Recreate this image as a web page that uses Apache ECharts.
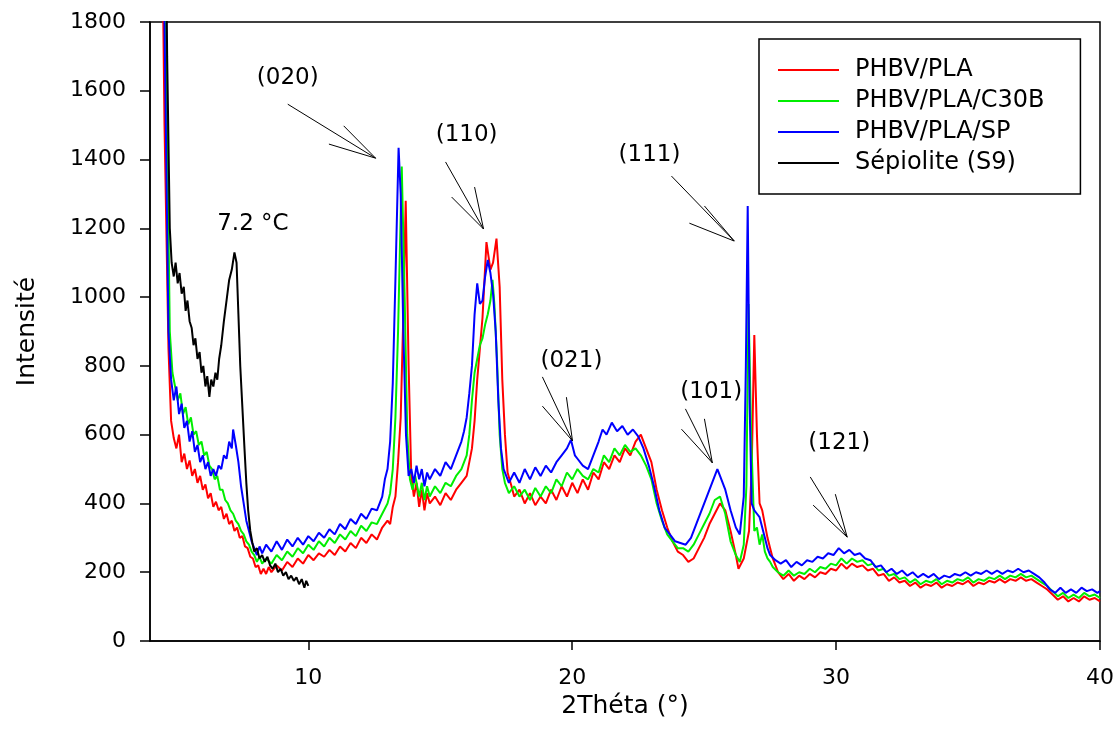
<!DOCTYPE html>
<html>
<head>
<meta charset="utf-8">
<script src="https://cdn.jsdelivr.net/npm/echarts@6/dist/echarts.min.js"></script>
<style>
html,body{margin:0;padding:0;background:#fff;}
#c{width:1117px;height:745px;}
</style>
</head>
<body>
<div id="c"></div>
<script>
// ---------- data (2Theta, intensity) ----------
const seriesNames = ['PHBV/PLA', 'PHBV/PLA/C30B', 'PHBV/PLA/SP', 'Sépiolite (S9)'];
const xTickValues = [10, 20, 30, 40];

const phbvPla = [
[4.4,2500],[4.55,1500],[4.7,850],[4.8,640],[4.9,590],[5.0,560],[5.1,600],[5.2,520],[5.3,545],[5.4,500],
[5.5,525],[5.6,480],[5.7,500],[5.8,460],[5.9,480],[6.0,440],[6.1,455],[6.2,415],[6.3,430],[6.4,390],
[6.5,405],[6.6,380],[6.7,390],[6.8,355],[6.9,370],[7.0,340],[7.1,350],[7.2,320],[7.3,330],[7.4,300],
[7.5,305],[7.6,275],[7.7,270],[7.8,245],[7.9,240],[8.0,215],[8.1,220],[8.2,195],[8.3,210],[8.4,195],
[8.5,215],[8.6,200],[8.8,220],[9.0,205],[9.2,230],[9.4,215],[9.6,240],[9.8,225],[10.0,250],[10.2,235],
[10.4,255],[10.6,245],[10.8,265],[11.0,250],[11.2,275],[11.4,260],[11.6,285],[11.8,270],[12.0,300],[12.2,285],
[12.4,310],[12.6,295],[12.8,330],[13.0,350],[13.1,340],[13.2,390],[13.3,420],[13.4,520],[13.5,650],[13.6,950],
[13.69,1280],[13.8,800],[13.9,480],[14.0,420],[14.1,460],[14.2,390],[14.3,440],[14.4,380],[14.5,430],[14.6,400],
[14.8,420],[15.0,395],[15.2,430],[15.4,410],[15.6,440],[15.8,460],[16.0,480],[16.1,520],[16.2,560],[16.3,640],
[16.4,760],[16.5,850],[16.6,940],[16.75,1160],[16.9,1080],[17.0,1100],[17.13,1170],[17.25,1030],[17.35,760],[17.45,600],
[17.55,490],[17.7,450],[17.8,420],[18.0,440],[18.2,400],[18.4,430],[18.6,395],[18.8,420],[19.0,400],[19.2,440],
[19.4,410],[19.6,450],[19.8,420],[20.0,460],[20.2,430],[20.4,470],[20.6,440],[20.8,490],[21.0,470],[21.2,520],
[21.4,500],[21.6,540],[21.8,520],[22.0,560],[22.2,540],[22.4,580],[22.6,600],[22.8,560],[23.0,520],[23.2,440],
[23.4,380],[23.6,330],[23.8,290],[24.0,260],[24.2,250],[24.4,230],[24.6,240],[24.8,270],[25.0,300],[25.2,340],
[25.4,370],[25.6,400],[25.8,380],[26.0,320],[26.2,250],[26.3,210],[26.5,240],[26.7,320],[26.8,500],[26.9,890],
[27.0,600],[27.1,400],[27.2,380],[27.3,340],[27.4,300],[27.5,270],[27.6,240],[27.8,200],[28.0,180],[28.2,195],
[28.4,175],[28.6,190],[28.8,180],[29.0,195],[29.2,185],[29.4,200],[29.6,195],[29.8,210],[30.0,205],[30.2,225],
[30.4,210],[30.6,225],[30.8,215],[31.0,220],[31.2,205],[31.4,210],[31.6,190],[31.8,195],[32.0,175],[32.2,185],
[32.4,170],[32.6,175],[32.8,160],[33.0,170],[33.2,155],[33.4,165],[33.6,160],[33.8,170],[34.0,155],[34.2,165],
[34.4,160],[34.6,170],[34.8,165],[35.0,175],[35.2,160],[35.4,170],[35.6,165],[35.8,175],[36.0,170],[36.2,180],
[36.4,170],[36.6,180],[36.8,175],[37.0,185],[37.2,175],[37.4,180],[37.6,170],[37.8,160],[38.0,150],[38.2,135],
[38.4,120],[38.6,130],[38.8,115],[39.0,125],[39.2,115],[39.4,130],[39.6,120],[39.8,125],[40.0,115]
];

const phbvPlaC30B = [
[4.4,2500],[4.6,1800],[4.75,900],[4.85,780],[4.95,740],[5.05,700],[5.15,720],[5.25,660],[5.35,680],[5.45,630],
[5.55,650],[5.65,600],[5.75,610],[5.85,570],[5.95,580],[6.05,540],[6.15,550],[6.25,510],[6.35,500],[6.45,470],
[6.55,480],[6.65,440],[6.75,440],[6.85,410],[6.95,400],[7.05,380],[7.15,370],[7.25,350],[7.35,340],[7.45,320],
[7.55,310],[7.65,290],[7.75,280],[7.85,260],[7.95,250],[8.05,230],[8.15,245],[8.25,225],[8.4,240],[8.6,225],
[8.8,250],[9.0,235],[9.2,260],[9.4,245],[9.6,270],[9.8,255],[10.0,280],[10.2,265],[10.4,290],[10.6,275],
[10.8,300],[11.0,285],[11.2,310],[11.4,295],[11.6,320],[11.8,305],[12.0,335],[12.2,320],[12.4,345],[12.6,340],
[12.8,370],[13.0,400],[13.1,430],[13.2,500],[13.3,650],[13.4,900],[13.54,1380],[13.65,1000],[13.75,600],[13.85,470],
[13.95,440],[14.05,480],[14.2,420],[14.3,460],[14.4,410],[14.5,450],[14.6,420],[14.8,450],[15.0,430],[15.2,460],
[15.4,450],[15.6,480],[15.8,500],[16.0,540],[16.1,600],[16.2,700],[16.3,780],[16.4,820],[16.5,860],[16.6,880],
[16.7,920],[16.8,950],[16.9,990],[16.98,1050],[17.05,980],[17.15,820],[17.25,600],[17.35,500],[17.45,460],[17.6,430],
[17.8,450],[18.0,420],[18.2,440],[18.4,410],[18.6,445],[18.8,420],[19.0,450],[19.2,430],[19.4,470],[19.6,450],
[19.8,490],[20.0,470],[20.2,500],[20.4,480],[20.6,470],[20.8,500],[21.0,490],[21.2,540],[21.4,520],[21.6,560],
[21.8,540],[22.0,570],[22.2,550],[22.4,560],[22.6,540],[22.8,510],[23.0,470],[23.2,400],[23.4,350],[23.6,310],
[23.8,290],[24.0,270],[24.2,270],[24.4,260],[24.6,280],[24.8,310],[25.0,340],[25.2,370],[25.4,410],[25.6,420],
[25.8,370],[26.0,290],[26.2,250],[26.35,230],[26.5,280],[26.6,450],[26.68,980],[26.78,600],[26.9,320],[27.0,330],
[27.1,280],[27.2,310],[27.3,260],[27.4,240],[27.5,230],[27.6,215],[27.8,200],[28.0,190],[28.2,205],[28.4,190],
[28.6,200],[28.8,195],[29.0,210],[29.2,200],[29.4,215],[29.6,210],[29.8,225],[30.0,220],[30.2,240],[30.4,225],
[30.6,240],[30.8,230],[31.0,235],[31.2,220],[31.4,225],[31.6,205],[31.8,210],[32.0,190],[32.2,195],[32.4,180],
[32.6,185],[32.8,170],[33.0,180],[33.2,165],[33.4,175],[33.6,170],[33.8,180],[34.0,165],[34.2,175],[34.4,170],
[34.6,180],[34.8,175],[35.0,185],[35.2,170],[35.4,180],[35.6,175],[35.8,185],[36.0,180],[36.2,190],[36.4,180],
[36.6,190],[36.8,185],[37.0,195],[37.2,185],[37.4,190],[37.6,180],[37.8,170],[38.0,160],[38.2,145],[38.4,130],
[38.6,140],[38.8,125],[39.0,135],[39.2,125],[39.4,140],[39.6,130],[39.8,135],[40.0,125]
];

const phbvPlaSP = [
[4.4,2500],[4.55,1800],[4.7,900],[4.8,760],[4.9,700],[5.0,740],[5.1,660],[5.2,690],[5.3,620],[5.4,640],
[5.5,580],[5.6,610],[5.7,550],[5.8,570],[5.9,520],[6.0,540],[6.1,500],[6.2,520],[6.3,480],[6.4,500],
[6.5,480],[6.6,510],[6.7,500],[6.8,540],[6.9,530],[7.0,580],[7.1,560],[7.15,615],[7.25,570],[7.35,520],
[7.45,450],[7.55,400],[7.65,350],[7.75,320],[7.85,290],[7.95,270],[8.05,250],[8.15,275],[8.25,255],[8.4,280],
[8.6,260],[8.8,290],[9.0,265],[9.2,295],[9.4,275],[9.6,300],[9.8,280],[10.0,305],[10.2,290],[10.4,315],
[10.6,300],[10.8,325],[11.0,310],[11.2,340],[11.4,325],[11.6,355],[11.8,340],[12.0,370],[12.2,355],[12.4,385],
[12.6,380],[12.8,420],[12.9,470],[13.0,500],[13.1,580],[13.2,750],[13.3,1050],[13.42,1434],[13.5,1300],[13.6,900],
[13.7,600],[13.8,480],[13.9,500],[14.0,460],[14.1,510],[14.2,470],[14.3,500],[14.4,450],[14.5,490],[14.6,470],
[14.8,500],[15.0,480],[15.2,520],[15.4,500],[15.6,540],[15.8,580],[15.9,610],[16.0,650],[16.1,720],[16.2,800],
[16.3,950],[16.4,1040],[16.5,980],[16.6,990],[16.7,1060],[16.8,1108],[16.9,1070],[17.0,1010],[17.1,900],[17.2,700],
[17.3,560],[17.4,500],[17.5,480],[17.6,460],[17.8,490],[18.0,460],[18.2,500],[18.4,470],[18.6,505],[18.8,480],
[19.0,510],[19.2,490],[19.4,520],[19.6,540],[19.8,560],[19.95,585],[20.1,540],[20.2,530],[20.4,510],[20.6,500],
[20.8,540],[21.0,580],[21.15,615],[21.3,600],[21.5,635],[21.7,610],[21.9,625],[22.1,600],[22.3,615],[22.5,595],
[22.7,560],[22.9,510],[23.1,450],[23.3,380],[23.5,330],[23.7,310],[23.9,290],[24.1,285],[24.3,280],[24.5,300],
[24.7,340],[24.9,380],[25.1,420],[25.3,460],[25.5,500],[25.6,480],[25.8,440],[26.0,380],[26.2,330],[26.35,310],
[26.5,420],[26.58,800],[26.65,1265],[26.72,700],[26.8,400],[26.9,380],[27.0,370],[27.1,360],[27.2,330],[27.3,300],
[27.4,270],[27.5,250],[27.7,235],[27.9,225],[28.1,235],[28.3,215],[28.5,230],[28.7,220],[28.9,235],[29.1,230],
[29.3,245],[29.5,240],[29.7,255],[29.9,250],[30.1,270],[30.3,255],[30.5,265],[30.7,250],[30.9,255],[31.1,240],
[31.3,235],[31.5,215],[31.7,220],[31.9,200],[32.1,210],[32.3,195],[32.5,205],[32.7,190],[32.9,200],[33.1,185],
[33.3,195],[33.5,185],[33.7,195],[33.9,180],[34.1,190],[34.3,185],[34.5,195],[34.7,190],[34.9,200],[35.1,190],
[35.3,200],[35.5,195],[35.7,205],[35.9,195],[36.1,205],[36.3,195],[36.5,205],[36.7,200],[36.9,210],[37.1,200],
[37.3,205],[37.5,195],[37.7,185],[37.9,170],[38.1,150],[38.3,140],[38.5,155],[38.7,140],[38.9,150],[39.1,140],
[39.3,155],[39.5,145],[39.7,150],[39.9,140],[40.0,145]
];

const sepiolite = [
[4.55,2500],[4.65,1700],[4.75,1200],[4.82,1100],[4.9,1060],[4.97,1100],[5.05,1040],[5.12,1070],[5.2,1010],[5.28,1030],
[5.35,960],[5.42,990],[5.5,930],[5.58,910],[5.65,860],[5.72,880],[5.8,820],[5.88,840],[5.95,780],[6.02,800],
[6.1,740],[6.17,770],[6.25,710],[6.32,760],[6.4,740],[6.48,780],[6.55,760],[6.62,820],[6.7,860],[6.8,930],
[6.9,990],[7.0,1050],[7.1,1080],[7.2,1130],[7.28,1100],[7.35,950],[7.42,800],[7.5,680],[7.58,560],[7.65,460],
[7.72,380],[7.8,320],[7.88,285],[7.95,260],[8.05,270],[8.15,240],[8.25,250],[8.35,230],[8.45,245],[8.55,220],
[8.65,210],[8.75,225],[8.85,200],[8.95,210],[9.05,190],[9.15,200],[9.25,180],[9.35,190],[9.45,175],[9.55,185],
[9.65,165],[9.75,180],[9.85,155],[9.92,175],[10.0,160]
];

// annotation anchors, in data coordinates (2Theta, intensity)
const annotations = [
  {label:'(020)', text:[9.22,1637], tip:[12.55,1404], shaft:[9.22,1561], barbA:[11.34,1498], barbB:[10.78,1445]},
  {label:'(110)', text:[16.0,1471], tip:[16.64,1198], shaft:[15.20,1393], barbA:[16.30,1320], barbB:[15.43,1291]},
  {label:'(021)', text:[19.97,814], tip:[20.01,582], shaft:[18.87,768], barbA:[19.78,709], barbB:[18.87,683]},
  {label:'(111)', text:[22.93,1413], tip:[26.14,1163], shaft:[23.76,1352], barbA:[25.01,1265], barbB:[24.44,1215]},
  {label:'(101)', text:[25.27,724], tip:[25.31,518], shaft:[24.29,675], barbA:[25.01,646], barbB:[24.14,616]},
  {label:'(121)', text:[30.12,576], tip:[30.42,302], shaft:[29.02,477], barbA:[29.97,427], barbB:[29.13,395]}
];
const peakNote = {label:'7.2 °C', text:[7.90,1213]};

const colors = ['#ff0000', '#00ee00', '#0000ff', '#000000'];
const FONT = '"DejaVu Sans", "Liberation Sans", Arial, sans-serif';

const chart = echarts.init(document.getElementById('c'), null, {renderer: 'canvas'});
const allData = [phbvPla, phbvPlaC30B, phbvPlaSP, sepiolite];

const option = {
  animation: false,
  backgroundColor: '#fff',
  textStyle: {fontFamily: FONT, color: '#000'},
  grid: {left: 150, top: 22, width: 951, height: 619, show: true, borderColor: '#000', borderWidth: 1.5, backgroundColor: 'transparent'},
  legend: {
    orient: 'vertical', left: 759, top: 39,
    data: seriesNames,
    icon: 'rect', itemWidth: 61, itemHeight: 2, itemGap: 7,
    padding: [19, 36, 19, 19],
    borderColor: '#000', borderWidth: 1.5, backgroundColor: '#fff',
    textStyle: {fontFamily: FONT, fontSize: 24, color: '#000', lineHeight: 24, padding: [0, 0, 0, 11]}
  },
  xAxis: {
    type: 'value', min: 4, max: 40,
    name: '2Théta (°)', nameLocation: 'middle', nameGap: 53,
    nameTextStyle: {fontFamily: FONT, fontSize: 25, color: '#000'},
    axisLine: {show: true, onZero: false, lineStyle: {color: '#000', width: 1.5}},
    axisTick: {show: true, inside: false, length: 9, lineStyle: {color: '#000', width: 1.5}, customValues: xTickValues},
    axisLabel: {fontFamily: FONT, fontSize: 22, color: '#000', margin: 26, customValues: xTickValues, showMaxLabel: true, showMinLabel: true},
    splitLine: {show: false}
  },
  yAxis: {
    type: 'value', min: 0, max: 1800, interval: 200,
    name: 'Intensité', nameLocation: 'middle', nameGap: 110,
    nameTextStyle: {fontFamily: FONT, fontSize: 25, color: '#000'},
    axisLine: {show: true, lineStyle: {color: '#000', width: 1.5}},
    axisTick: {show: true, inside: false, length: 10, lineStyle: {color: '#000', width: 1.5}},
    axisLabel: {fontFamily: FONT, fontSize: 22, color: '#000', margin: 24, formatter: v => String(v)},
    splitLine: {show: false}
  },
  series: seriesNames.map((n, i) => ({
    name: n, type: 'line', data: allData[i], showSymbol: false, symbol: 'none',
    clip: true, lineStyle: {color: colors[i], width: 2}, itemStyle: {color: colors[i]},
    z: 2 + i
  }))
};
chart.setOption(option);

const toPx = p => chart.convertToPixel({gridIndex: 0}, p);
const graphics = [];
annotations.forEach(a => {
  const tip = toPx(a.tip);
  [a.shaft, a.barbA, a.barbB].forEach(s => {
    const p = toPx(s);
    graphics.push({type: 'line', silent: true, z: 50,
      shape: {x1: p[0], y1: p[1], x2: tip[0], y2: tip[1]},
      style: {stroke: '#000', lineWidth: 1}});
  });
  const t = toPx(a.text);
  graphics.push({type: 'text', silent: true, z: 50, x: t[0], y: t[1],
    style: {text: a.label, font: '23px ' + FONT, fill: '#000', align: 'center', verticalAlign: 'middle', textAlign: 'center', textVerticalAlign: 'middle'}});
});
const pn = toPx(peakNote.text);
graphics.push({type: 'text', silent: true, z: 50, x: pn[0], y: pn[1],
  style: {text: peakNote.label, font: '23px ' + FONT, fill: '#000', align: 'center', verticalAlign: 'middle', textAlign: 'center', textVerticalAlign: 'middle'}});
chart.setOption({graphic: graphics});
</script>
</body>
</html>
